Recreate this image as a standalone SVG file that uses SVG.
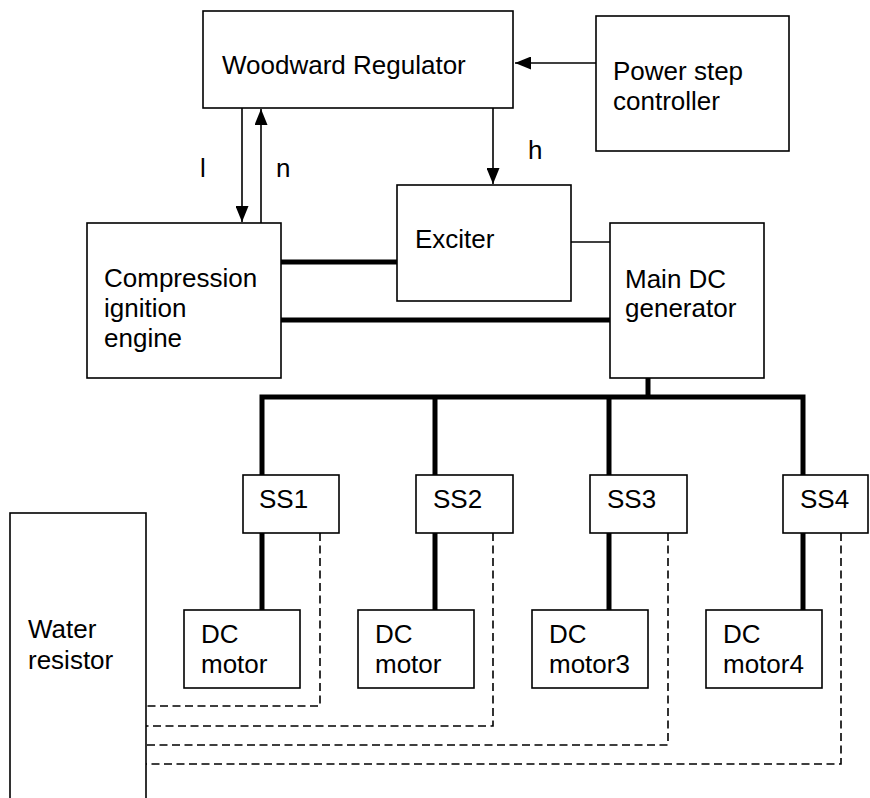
<svg xmlns="http://www.w3.org/2000/svg" width="870" height="798" viewBox="0 0 870 798">
<style>
.box{fill:#fff;stroke:#000;stroke-width:1.6}
.t{font-family:"Liberation Sans",Arial,sans-serif;font-size:26px;fill:#000}
.thin{stroke:#000;stroke-width:1.6;fill:none}
.thick{stroke:#000;stroke-width:5;fill:none}
.dash{stroke:#000;stroke-width:1.6;fill:none;stroke-dasharray:8 4.5}
</style>
<defs>
<marker id="ah" markerWidth="16" markerHeight="13" refX="16" refY="6.5" viewBox="0 0 16 13" markerUnits="userSpaceOnUse" orient="auto">
<path d="M0,0 L16,6.5 L0,13 Z" fill="#000"/>
</marker>
</defs>
<rect width="870" height="798" fill="#fff"/>
<g id="connectors">
<line class="thin" x1="596" y1="63" x2="515" y2="63" marker-end="url(#ah)"/>
<line class="thin" x1="242" y1="108" x2="242" y2="222" marker-end="url(#ah)"/>
<line class="thin" x1="261" y1="223" x2="261" y2="109" marker-end="url(#ah)"/>
<line class="thin" x1="493" y1="108" x2="493" y2="184" marker-end="url(#ah)"/>
<line class="thick" x1="281" y1="262" x2="397" y2="262"/>
<line class="thick" x1="281" y1="320" x2="610" y2="320"/>
<line class="thin" x1="571" y1="242" x2="610" y2="242"/>
<line class="thick" x1="648" y1="378" x2="648" y2="397"/>
<polyline class="thick" points="262,475 262,397 803,397 803,475"/>
<line class="thick" x1="435" y1="397" x2="435" y2="475"/>
<line class="thick" x1="609" y1="397" x2="609" y2="475"/>
<line class="thick" x1="262" y1="533" x2="262" y2="610"/>
<line class="thick" x1="435" y1="533" x2="435" y2="610"/>
<line class="thick" x1="609" y1="533" x2="609" y2="610"/>
<line class="thick" x1="803" y1="533" x2="803" y2="610"/>
<polyline class="dash" points="320,533 320,706 146,706"/>
<polyline class="dash" points="493,533 493,726 146,726"/>
<polyline class="dash" points="668,533 668,745 146,745"/>
<polyline class="dash" points="841,533 841,764 146,764"/>
<text class="t" x="200" y="177">l</text>
<text class="t" x="276" y="177">n</text>
<text class="t" x="528" y="159">h</text>
</g>
<g id="woodward"><rect class="box" x="203" y="11" width="310" height="97"/><text class="t" x="222" y="74">Woodward Regulator</text></g>
<g id="powerstep"><rect class="box" x="596" y="16" width="193" height="135"/><text class="t" x="613" y="80">Power step</text><text class="t" x="613" y="110">controller</text></g>
<g id="engine"><rect class="box" x="87" y="223" width="194" height="155"/><text class="t" x="104" y="287">Compression</text><text class="t" x="104" y="317">ignition</text><text class="t" x="104" y="347">engine</text></g>
<g id="exciter"><rect class="box" x="397" y="185" width="174" height="116"/><text class="t" x="415" y="248">Exciter</text></g>
<g id="generator"><rect class="box" x="610" y="223" width="154" height="155"/><text class="t" x="625" y="288">Main DC</text><text class="t" x="625" y="317">generator</text></g>
<g id="ss1"><rect class="box" x="243" y="475" width="96" height="58"/><text class="t" x="259" y="508">SS1</text></g>
<g id="ss2"><rect class="box" x="416" y="475" width="97" height="58"/><text class="t" x="433" y="508">SS2</text></g>
<g id="ss3"><rect class="box" x="590" y="475" width="97" height="58"/><text class="t" x="607" y="508">SS3</text></g>
<g id="ss4"><rect class="box" x="783" y="475" width="85" height="58"/><text class="t" x="800" y="508">SS4</text></g>
<g id="motor1"><rect class="box" x="184" y="610" width="116" height="78"/><text class="t" x="201" y="643">DC</text><text class="t" x="201" y="673">motor</text></g>
<g id="motor2"><rect class="box" x="358" y="610" width="116" height="78"/><text class="t" x="375" y="643">DC</text><text class="t" x="375" y="673">motor</text></g>
<g id="motor3"><rect class="box" x="532" y="610" width="116" height="78"/><text class="t" x="549" y="643">DC</text><text class="t" x="549" y="673">motor3</text></g>
<g id="motor4"><rect class="box" x="706" y="610" width="116" height="78"/><text class="t" x="723" y="643">DC</text><text class="t" x="723" y="673">motor4</text></g>
<g id="water"><rect class="box" x="10" y="513" width="136" height="300"/><text class="t" x="28" y="638">Water</text><text class="t" x="28" y="669">resistor</text></g>
</svg>
